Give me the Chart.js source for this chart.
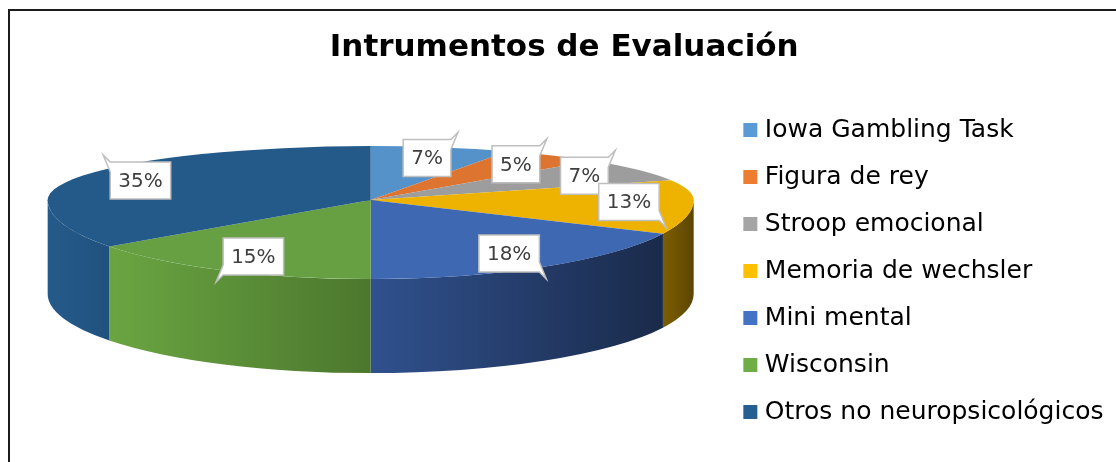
<!DOCTYPE html>
<html lang="es">
<head>
  <meta charset="UTF-8">
  <title>Intrumentos de Evaluación</title>
  <script src="https://cdn.jsdelivr.net/npm/chart.js"></script>
  <style>
    html, body { margin: 0; padding: 0; background: #fff; overflow: hidden; }
    .frame { position: absolute; left: 8px; top: 9px; width: 1200px; height: 500px;
             border-top: 2px solid #1c1c1c; border-left: 2px solid #1c1c1c; }
    canvas { display: block; }
  </style>
</head>
<body>
  <div class="frame">
    <canvas id="pie" width="1114" height="451"></canvas>
  </div>

  <script>
    // data
    const categories = ['Iowa Gambling Task', 'Figura de rey', 'Stroop emocional',
                        'Memoria de wechsler', 'Mini mental', 'Wisconsin', 'Otros no neuropsicológicos'];
    const shares = [7, 5, 7, 13, 18, 15, 35];

    // colours (legend = flat office palette, pie faces a bit darker as lit in 3D)
    const legendColors = ['#5B9BD5', '#ED7D31', '#A5A5A5', '#FFC000', '#4472C4', '#70AD47', '#255E91'];
    const topColors    = ['#5592C9', '#DD7430', '#9D9D9D', '#EEB200', '#3F68B3', '#66A042', '#245A89'];
    const sideLight    = ['#3d6a92', '#a2561f', '#6e6e6e', '#7d5e00', '#30518E', '#6AA542', '#245A8A'];
    const sideDark     = ['#2c4d6b', '#7a4117', '#555555', '#5c4500', '#1A2A4A', '#4C772D', '#21527E'];

    // 3d look: vertical squash above / below the centre, wall height
    function geometry(chart, o) {
      const arcs = chart.getDatasetMeta(0).data;
      return {
        arcs,
        cx: arcs[0].x,
        cy: arcs[0].y + o.shiftY,
        y0: arcs[0].y,
        r: arcs[0].outerRadius,
        kTop: o.tiltTop,
        kBot: o.tiltBottom,
        depth: o.depth
      };
    }

    function drawWalls(ctx, g) {
      g.arcs.forEach((arc, i) => {
        const lo = Math.max(arc.startAngle, 0);
        const hi = Math.min(arc.endAngle, Math.PI);
        if (lo >= hi) return;
        const ry = g.r * g.kBot;
        const xl = g.cx + g.r * Math.cos(hi), xr = g.cx + g.r * Math.cos(lo);
        const grad = ctx.createLinearGradient(xl, 0, xr, 0);
        grad.addColorStop(0, sideLight[i]);
        grad.addColorStop(1, sideDark[i]);
        ctx.beginPath();
        ctx.ellipse(g.cx, g.cy, g.r, ry, 0, lo, hi);
        ctx.ellipse(g.cx, g.cy + g.depth, g.r, ry, 0, hi, lo, true);
        ctx.closePath();
        ctx.fillStyle = grad;
        ctx.fill();
      });
    }

    function drawHalf(chart, g, top) {
      const ctx = chart.ctx;
      ctx.save();
      ctx.beginPath();
      if (top) ctx.rect(0, 0, chart.width, g.cy + 1);
      else ctx.rect(0, g.cy, chart.width, chart.height - g.cy);
      ctx.clip();
      ctx.translate(0, g.cy);
      ctx.scale(1, top ? g.kTop : g.kBot);
      ctx.translate(0, -g.y0);
      chart.getDatasetMeta(0).controller.draw();
      ctx.restore();
    }

    function drawCallouts(chart, g, o) {
      const ctx = chart.ctx;
      const total = shares.reduce((s, v) => s + v, 0);
      ctx.save();
      ctx.font = '20px "DejaVu Sans"';
      ctx.textAlign = 'center';
      ctx.textBaseline = 'middle';
      g.arcs.forEach((arc, i) => {
        const mid = (arc.startAngle + arc.endAngle) / 2;
        const s = Math.sin(mid), c = Math.cos(mid);
        const k = s < 0 ? g.kTop : g.kBot;
        const x = g.cx + g.r * o.labelPos * c;
        const y = g.cy + g.r * o.labelPos * k * s;
        const text = Math.round(shares[i] / total * 100) + '%';
        const w = ctx.measureText(text).width + 16, h = 37;
        const x1 = x - w / 2, x2 = x + w / 2, y1 = y - h / 2, y2 = y + h / 2;
        const sx = c >= 0 ? 1 : -1, sy = s >= 0 ? 1 : -1;
        const t = 7, n = 10;
        ctx.beginPath();
        if (sx < 0 && sy < 0) { ctx.moveTo(x1, y1 + n); ctx.lineTo(x1 - t, y1 - t); ctx.lineTo(x1, y1); }
        else ctx.moveTo(x1, y1);
        if (sx > 0 && sy < 0) { ctx.lineTo(x2, y1); ctx.lineTo(x2 + t, y1 - t); ctx.lineTo(x2, y1 + n); }
        else ctx.lineTo(x2, y1);
        if (sx > 0 && sy > 0) { ctx.lineTo(x2, y2 - n); ctx.lineTo(x2 + t, y2 + t); ctx.lineTo(x2, y2); }
        else ctx.lineTo(x2, y2);
        if (sx < 0 && sy > 0) { ctx.lineTo(x1, y2); ctx.lineTo(x1 - t, y2 + t); ctx.lineTo(x1, y2 - n); }
        else ctx.lineTo(x1, y2);
        ctx.closePath();
        ctx.fillStyle = '#ffffff';
        ctx.fill();
        ctx.strokeStyle = '#bfbfbf';
        ctx.lineWidth = 1.5;
        ctx.stroke();
        ctx.fillStyle = '#404040';
        ctx.fillText(text, x, y + 1);
      });
      ctx.restore();
    }

    const pie3d = {
      id: 'pie3d',
      beforeDatasetsDraw(chart, args, o) {
        const g = geometry(chart, o);
        drawWalls(chart.ctx, g);
        drawHalf(chart, g, true);
        drawHalf(chart, g, false);
        return false;
      },
      afterDraw(chart, args, o) {
        drawCallouts(chart, geometry(chart, o), o);
      }
    };

    new Chart(document.getElementById('pie'), {
      type: 'pie',
      data: {
        labels: categories,
        datasets: [{
          data: shares,
          backgroundColor: topColors,
          borderWidth: 0,
          radius: 323
        }]
      },
      options: {
        responsive: false,
        animation: false,
        devicePixelRatio: 1,
        layout: { padding: { left: 5, right: 10.5, top: 0, bottom: 0 } },
        plugins: {
          tooltip: { enabled: false },
          title: {
            display: true,
            text: 'Intrumentos de Evaluación',
            color: '#000',
            font: { family: 'DejaVu Sans', size: 31, weight: 'bold' },
            padding: { top: 18, bottom: 14 }
          },
          legend: {
            position: 'right',
            fullSize: false,
            labels: {
              color: '#000',
              font: { family: 'DejaVu Sans', size: 25 },
              boxWidth: 4,
              boxHeight: 4,
              padding: 22,
              generateLabels: () => categories.map((text, i) => ({
                text,
                fillStyle: legendColors[i],
                strokeStyle: legendColors[i],
                lineWidth: 10,
                hidden: false,
                index: i,
                datasetIndex: 0
              }))
            }
          },
          pie3d: { shiftY: -71, tiltTop: 54 / 323, tiltBottom: 79 / 323, depth: 94, labelPos: 0.8 }
        }
      },
      plugins: [pie3d]
    });
  </script>
</body>
</html>
